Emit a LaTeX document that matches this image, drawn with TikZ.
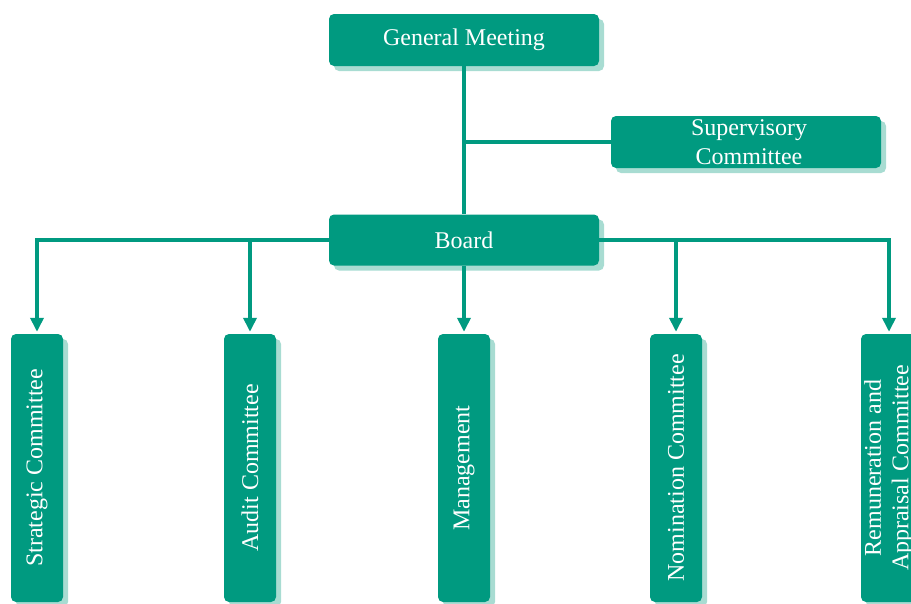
\documentclass[tikz,border=0pt]{standalone}
\usepackage{fontspec}
\setmainfont{Liberation Serif}
\usetikzlibrary{arrows.meta,shadows}
\definecolor{teal1}{HTML}{009A80}
\definecolor{shadowc}{HTML}{A8DCD2}
\tikzset{
  box/.style={fill=teal1, rounded corners=5pt, text=white, inner sep=0pt,
    font=\fontsize{24}{28.5}\selectfont, align=center,
    drop shadow={shadow xshift=5pt, shadow yshift=-5pt, fill=shadowc, opacity=1}},
  hbox/.style={box, minimum width=270pt, minimum height=52pt},
  vbox/.style={box, minimum width=52pt, minimum height=268pt},
  conn/.style={draw=teal1, line width=4.3pt},
  arr/.style={conn, -{Triangle[length=14pt,width=13pt]}, shorten >=2pt}
}
\begin{document}
\begin{tikzpicture}[x=1pt,y=-1pt]
\useasboundingbox (0,0) rectangle (911,603);
\clip (0,0) rectangle (911,603);
\node[hbox] (gm) at (464,40) {General Meeting};
\node[hbox] (sup) at (746,142) {\hspace*{6pt}Supervisory\\\hspace*{6pt}Committee};
\node[hbox, minimum height=51pt] (board) at (464,240) {Board};
\node[vbox] (s1) at (37,468) {\rotatebox{90}{Strategic Committee}};
\node[vbox] (s2) at (250,468) {\rotatebox{90}{Audit Committee}};
\node[vbox] (s3) at (464,468) {\rotatebox{90}{Management}};
\node[vbox] (s4) at (676,468) {\rotatebox{90}{Nomination Committee}};
\node[vbox] (s5) at (889,468) {\rotatebox{90}{\begin{tabular}{@{}c@{}}Remuneration and\\[-1pt]Appraisal Committee\end{tabular}}};
\draw[conn] (gm.south) -- (board.north);
\draw[conn] (gm.south |- sup.west) -- (sup.west);
\draw[arr] (board.west) -| (s1.north);
\draw[arr] (board.east) -| (s5.north);
\draw[arr] (s2.north |- board.west) -- (s2.north);
\draw[arr] (s4.north |- board.east) -- (s4.north);
\draw[arr] (board.south) -- (s3.north);
\end{tikzpicture}
\end{document}
